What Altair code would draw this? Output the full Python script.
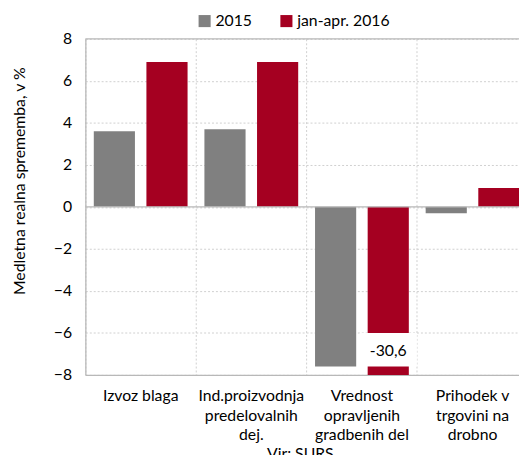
import altair as alt
import pandas as pd

categories = ["Izvoz blaga", "Ind.proizvodnja|predelovalnih|dej.",
              "Vrednost|opravljenih|gradbenih del", "Prihodek v|trgovini na|drobno"]
series = ["2015", "jan-apr. 2016"]
values_2015 = [3.6, 3.7, -7.6, -0.3]
values_2016 = [6.9, 6.9, -30.6, 0.9]
y_ticks = [-8, -6, -4, -2, 0, 2, 4, 6, 8]
colors = ["#808080", "#A50021"]
label_category = categories[2]
label_text = "-30,6"
label_box = [-6.0, -7.6]
label_y = -6.85
frame_lines = [8, 0]

rows = []
for c, a, b in zip(categories, values_2015, values_2016):
    rows.append({"cat": c, "series": series[0], "value": a})
    rows.append({"cat": c, "series": series[1], "value": b})
df = pd.DataFrame(rows)

df_label = pd.DataFrame({"cat": [label_category], "series": [series[1]],
                         "y1": [label_box[0]], "y2": [label_box[1]],
                         "ty": [label_y], "text": [label_text]})

FONT = "Lato"
FRAME = "#b8b8b8"
y_scale = alt.Scale(domain=[-8, 8], clamp=True, nice=False, zero=False)
x_scale = alt.Scale(paddingInner=0, paddingOuter=0, range=[0, 449])
xo_scale = alt.Scale(paddingInner=0.218, paddingOuter=0.16)

x = alt.X("cat:N", sort=categories, scale=x_scale,
          axis=alt.Axis(title=None, labelExpr="split(datum.label, '|')", labelAngle=0,
                        ticks=False, domain=True, domainColor=FRAME, domainWidth=1.3,
                        grid=True, bandPosition=0,
                        gridDash=[2, 2], gridColor="#cfcfcf", labelFontSize=16,
                        labelPadding=13, labelLineHeight=20, labelColor="black",
                        labelFont=FONT))
xo = alt.XOffset("series:N", sort=series, scale=xo_scale)

bars = alt.Chart(df).mark_bar().encode(
    x=x, xOffset=xo,
    y=alt.Y("value:Q", scale=y_scale, stack=None,
            axis=alt.Axis(values=y_ticks, title="Medletna realna sprememba, v %",
                          ticks=False, domain=True, domainColor=FRAME, domainWidth=1.3,
                          grid=True, gridDash=[2, 2],
                          gridColor="#cfcfcf", labelFontSize=16, labelPadding=14,
                          labelColor="black", labelFont=FONT,
                          titleFont=FONT, titleFontSize=16, titleFontWeight="normal",
                          titleColor="black", titleX=-67, titleY=144,
                          titleAngle=270, titleAlign="center", titleBaseline="middle")),
    color=alt.Color("series:N", sort=series,
                    scale=alt.Scale(domain=series, range=colors),
                    legend=alt.Legend(orient="none", legendX=113, legendY=-26,
                                      direction="horizontal", title=None,
                                      symbolType="square", symbolSize=150,
                                      symbolStrokeWidth=0, labelFontSize=16,
                                      labelFont=FONT, labelColor="black",
                                      labelOffset=3, columnPadding=26)),
)

lines = alt.Chart(pd.DataFrame({"y": frame_lines})).mark_rule(color=FRAME, strokeWidth=1.3).encode(
    y=alt.Y("y:Q", scale=y_scale))

box = alt.Chart(df_label).mark_bar(color="white", width=58).encode(
    x=alt.X("cat:N", sort=categories, scale=x_scale),
    xOffset=alt.XOffset("series:N", sort=series, scale=xo_scale),
    y=alt.Y("y1:Q", scale=y_scale), y2="y2:Q")

txt = alt.Chart(df_label).mark_text(fontSize=16, font=FONT, color="black", baseline="middle").encode(
    x=alt.X("cat:N", sort=categories, scale=x_scale),
    xOffset=alt.XOffset("series:N", sort=series, scale=xo_scale),
    y=alt.Y("ty:Q", scale=y_scale), text="text:N")

chart = alt.layer(bars, lines, box, txt).properties(
    width=440, height=341,
    autosize=alt.AutoSizeParams(type="none"),
    padding={"left": 78.5, "top": 28, "right": 0, "bottom": 78},
    title=alt.TitleParams("Vir: SURS.", orient="bottom", anchor="middle", frame="group",
                          fontSize=16, fontWeight="normal", font=FONT, color="black", offset=3),
).configure_view(stroke=None)

chart.save("out.html", embed_options={"renderer": "svg", "actions": False})
